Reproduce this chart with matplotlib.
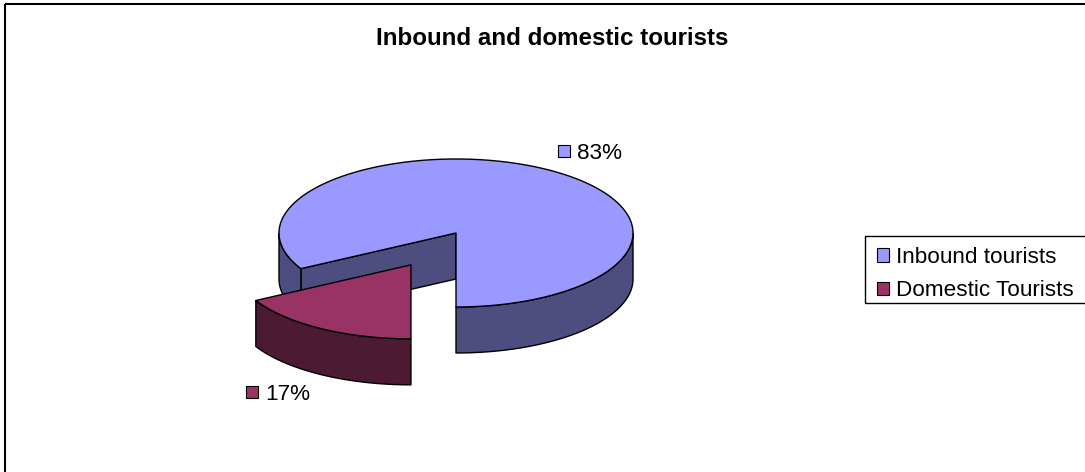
import numpy as np
import matplotlib
matplotlib.use("Agg")
import matplotlib.pyplot as plt
from matplotlib.patches import Polygon, Rectangle, Patch

plt.rcParams['font.family'] = ['Liberation Sans', 'DejaVu Sans']

# ---- data ----
categories = ["Inbound tourists", "Domestic Tourists"]
shares = [83, 17]
value_labels = ["83%", "17%"]
explode = [0.0, 0.5]
top_colors = ["#9999FF", "#993366"]
side_colors = ["#4D4D80", "#4D1A33"]
title = "Inbound and domestic tourists"

# ---- layout (pixels) ----
W, H = 1085, 472
CX, CY = 456.0, 233.0      # centre of the pie's top face
RX, RY = 177.0, 74.0       # half-axes of the top ellipse
DEPTH = 46.0               # thickness of the pie
EDGE = dict(edgecolor="black", linewidth=1.0, joinstyle="round")
FS = 16.2

fig = plt.figure(figsize=(W / 100, H / 100), dpi=100)
ax = fig.add_axes([0, 0, 1, 1])
ax.set_xlim(0, W)
ax.set_ylim(H, 0)
ax.axis("off")


def rim(cx, cy, t):
    """Point on the top ellipse at angle t (degrees, clockwise from 12 o'clock)."""
    r = np.radians(t)
    return cx + RX * np.sin(r), cy - RY * np.cos(r)


def arc(cx, cy, t0, t1, dy=0.0):
    ts = np.linspace(t0, t1, max(int(abs(t1 - t0) * 2), 2))
    xs, ys = rim(cx, cy, ts)
    return np.column_stack([xs, ys + dy])


total = float(sum(shares))
spans = [360.0 * s / total for s in shares]
# rotate so that the second slice starts at the front (6 o'clock)
start = 180.0 - spans[0]

slices = []
t = start
for i, span in enumerate(spans):
    t0, t1 = t, t + span
    mid = 0.5 * (t0 + t1)
    ox, oy = rim(0.0, 0.0, mid)
    cx, cy = CX + explode[i] * ox, CY + explode[i] * oy
    slices.append(dict(i=i, t0=t0, t1=t1, mid=mid, cx=cx, cy=cy))
    t = t1

# paint slices from back to front
for s in sorted(slices, key=lambda d: d["cy"]):
    i, t0, t1, cx, cy = s["i"], s["t0"], s["t1"], s["cx"], s["cy"]
    eps = 1e-6
    # radial faces
    for ang, normal in ((t0, t0 - 90.0), (t1, t1 + 90.0)):
        if np.cos(np.radians(normal - 180.0)) > eps:
            px, py = rim(cx, cy, ang)
            quad = [(cx, cy), (px, py), (px, py + DEPTH), (cx, cy + DEPTH)]
            ax.add_patch(Polygon(quad, closed=True, facecolor=side_colors[i], **EDGE))
    # curved outer side, only the part facing the viewer
    for k in range(-1, 3):
        a = max(t0, 90.0 + 360.0 * k)
        b = min(t1, 270.0 + 360.0 * k)
        if b - a > eps:
            upper = arc(cx, cy, a, b)
            lower = arc(cx, cy, a, b, DEPTH)[::-1]
            ax.add_patch(Polygon(np.vstack([upper, lower]), closed=True,
                                 facecolor=side_colors[i], **EDGE))
    # top face
    top = np.vstack([[cx, cy], arc(cx, cy, t0, t1)])
    ax.add_patch(Polygon(top, closed=True, facecolor=top_colors[i], **EDGE))

# value labels with a colour key
KEY = 12.0
GAP = 9.0
TXT_W = 42.0
for s in slices:
    i, mid = s["i"], s["mid"]
    r = np.radians(mid)
    lx = s["cx"] + 1.48 * RX * np.sin(r)
    ly = s["cy"] - 1.28 * RY * np.cos(r)
    if np.cos(r) < 0:
        ly += DEPTH
    x0 = lx - (KEY + GAP + TXT_W) / 2
    ax.add_patch(Rectangle((x0, ly - KEY / 2), KEY, KEY, facecolor=top_colors[i],
                           edgecolor="black", linewidth=0.8))
    ax.text(x0 + KEY + GAP - 2, ly + 7.5, value_labels[i], fontsize=FS,
            ha="left", va="baseline", color="black")

# title
ax.text(552, 45, title, fontsize=17.4, fontweight="bold", ha="center", va="baseline")

# chart border (right and bottom edges fall outside the image)
ax.add_patch(Rectangle((5, 4), W + 20, H + 20, facecolor="none",
                       edgecolor="black", linewidth=1.5))

# legend box, running off the right edge
ax.add_patch(Rectangle((865, 236), 240, 67, facecolor="white",
                       edgecolor="black", linewidth=1.0, zorder=4))
handles = [Patch(facecolor=c, edgecolor="black", linewidth=0.8) for c in top_colors]
leg = ax.legend(handles, categories, loc="upper left",
                bbox_to_anchor=(877 / W, 1 - 247 / H),
                borderaxespad=0, borderpad=0, prop={"size": FS},
                handlelength=0.55, handleheight=0.55, handletextpad=0.3,
                labelspacing=0.55, frameon=False)
leg.set_zorder(5)

fig.savefig("out.png", dpi=100)
